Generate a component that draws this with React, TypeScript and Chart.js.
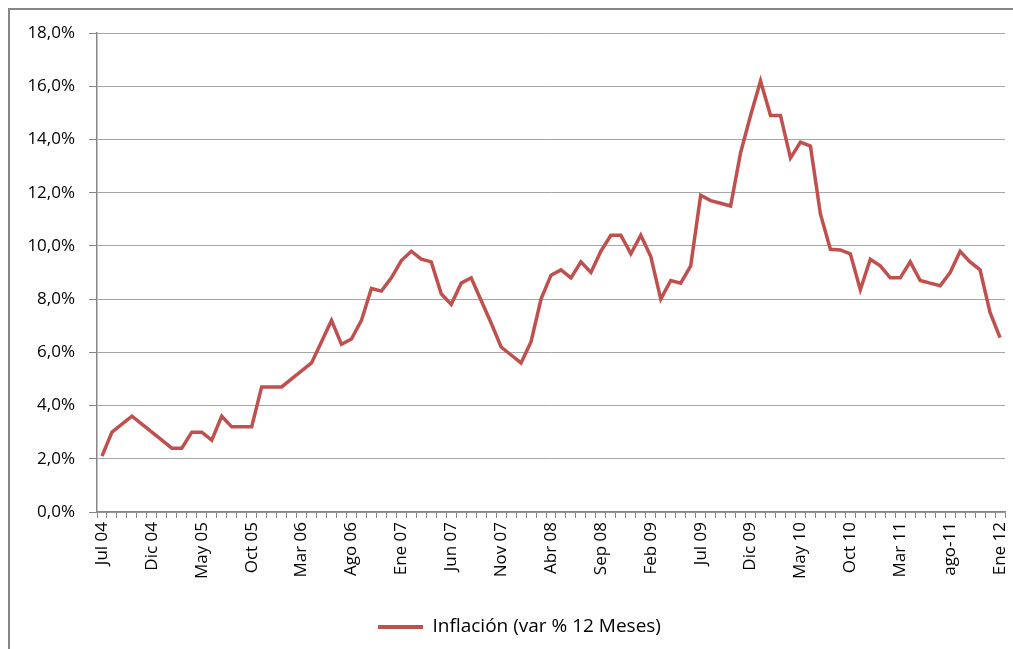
import React, { useEffect, useRef } from "react";
import { Chart, registerables } from "chart.js";

Chart.register(...registerables);

const months: string[] = [
  "Jul 04", "Ago 04", "Sep 04", "Oct 04", "Nov 04", "Dic 04",
  "Ene 05", "Feb 05", "Mar 05", "Abr 05", "May 05", "Jun 05", "Jul 05", "Ago 05", "Sep 05", "Oct 05", "Nov 05", "Dic 05",
  "Ene 06", "Feb 06", "Mar 06", "Abr 06", "May 06", "Jun 06", "Jul 06", "Ago 06", "Sep 06", "Oct 06", "Nov 06", "Dic 06",
  "Ene 07", "Feb 07", "Mar 07", "Abr 07", "May 07", "Jun 07", "Jul 07", "Ago 07", "Sep 07", "Oct 07", "Nov 07", "Dic 07",
  "Ene 08", "Feb 08", "Mar 08", "Abr 08", "May 08", "Jun 08", "Jul 08", "Ago 08", "Sep 08", "Oct 08", "Nov 08", "Dic 08",
  "Ene 09", "Feb 09", "Mar 09", "Abr 09", "May 09", "Jun 09", "Jul 09", "Ago 09", "Sep 09", "Oct 09", "Nov 09", "Dic 09",
  "Ene 10", "Feb 10", "Mar 10", "Abr 10", "May 10", "Jun 10", "Jul 10", "Ago 10", "Sep 10", "Oct 10", "Nov 10", "Dic 10",
  "Ene 11", "Feb 11", "Mar 11", "Abr 11", "May 11", "Jun 11", "Jul 11", "ago-11", "Sep 11", "Oct 11", "Nov 11", "Dic 11",
  "Ene 12",
];

const inflacion: number[] = [
  2.1, 3.0, 3.3, 3.6, 3.3, 3.0,
  2.7, 2.4, 2.4, 3.0, 3.0, 2.7, 3.6, 3.2, 3.2, 3.2, 4.7, 4.7,
  4.7, 5.0, 5.3, 5.6, 6.4, 7.2, 6.3, 6.5, 7.2, 8.4, 8.3, 8.8,
  9.45, 9.8, 9.5, 9.4, 8.2, 7.8, 8.6, 8.8, 7.95, 7.1, 6.2, 5.9,
  5.6, 6.4, 8.0, 8.9, 9.1, 8.8, 9.4, 9.0, 9.8, 10.4, 10.4, 9.7,
  10.4, 9.6, 8.0, 8.7, 8.6, 9.25, 11.9, 11.7, 11.6, 11.5, 13.5, 14.9,
  16.2, 14.9, 14.9, 13.3, 13.9, 13.75, 11.2, 9.87, 9.85, 9.7, 8.35, 9.5,
  9.25, 8.8, 8.8, 9.4, 8.7, 8.6, 8.5, 9.0, 9.8, 9.4, 9.1, 7.5,
  6.55,
];

const seriesName = "Inflación (var % 12 Meses)";
const yMin = 0;
const yMax = 18;
const yStep = 2;
const labelEvery = 5;

const FONT = "'Open Sans', 'Noto Sans', sans-serif";
const RED = "#C0504D";

const legendShift = {
  id: "legendShift",
  afterLayout(chart: any) {
    const lg = chart.legend;
    if (lg) {
      lg.left += 12;
      lg.right += 12;
    }
  },
};

export default function App() {
  const ref = useRef<HTMLCanvasElement | null>(null);

  useEffect(() => {
    if (!ref.current) return;
    const chart = new Chart(ref.current, {
      type: "line",
      data: {
        labels: months,
        datasets: [
          {
            label: seriesName,
            data: inflacion,
            borderColor: RED,
            backgroundColor: RED,
            borderWidth: 3.5,
            pointRadius: 0,
            tension: 0,
            fill: false,
          },
        ],
      },
      plugins: [legendShift],
      options: {
        responsive: false,
        animation: false,
        layout: { padding: { left: 0, right: 8, top: 23, bottom: 2.5 } },
        plugins: {
          tooltip: { enabled: false },
          legend: {
            position: "bottom",
            labels: {
              font: { family: FONT, size: 19 },
              color: "#000",
              boxWidth: 45,
              boxHeight: 4,
              padding: 10,
              generateLabels: () => [
                {
                  text: seriesName,
                  fillStyle: RED,
                  strokeStyle: RED,
                  lineWidth: 0,
                  hidden: false,
                  datasetIndex: 0,
                } as any,
              ],
            },
          },
        },
        scales: {
          x: {
            type: "category",
            offset: true,
            grid: {
              offset: true,
              drawOnChartArea: false,
              drawTicks: true,
              tickLength: 6,
              color: "#868686",
            },
            border: { color: "#868686", width: 1.5 },
            ticks: {
              autoSkip: false,
              maxRotation: 90,
              minRotation: 90,
              padding: 4,
              color: "#000",
              font: { family: FONT, size: 17 },
              callback: (_v: any, i: number) => (i % labelEvery === 0 ? months[i] : ""),
            },
            afterFit: (s: any) => {
              s.height = 95.5;
              s.paddingLeft = 0;
              s.paddingRight = 0;
            },
          },
          y: {
            min: yMin,
            max: yMax,
            grid: {
              color: "#A6A6A6",
              lineWidth: 1,
              drawTicks: true,
              tickLength: 8,
              tickColor: "#868686",
            },
            border: { color: "#868686", width: 1.5 },
            ticks: {
              stepSize: yStep,
              padding: 14,
              color: "#000",
              font: { family: FONT, size: 17 },
              callback: (v: any) => Number(v).toFixed(1).replace(".", ",") + "%",
            },
            afterFit: (s: any) => {
              s.width = 87;
              s.paddingTop = 0;
              s.paddingBottom = 0;
            },
          },
        },
      },
    });
    return () => chart.destroy();
  }, []);

  return (
    <div
      style={{
        position: "fixed",
        left: 8,
        top: 8,
        width: 1100,
        height: 700,
        borderLeft: "2px solid #868686",
        borderTop: "2px solid #868686",
        boxSizing: "border-box",
        background: "#fff",
      }}
    >
      <canvas
        ref={ref}
        width={1003}
        height={639}
        style={{ position: "absolute", left: 0, top: 0, width: 1003, height: 639 }}
      />
    </div>
  );
}
